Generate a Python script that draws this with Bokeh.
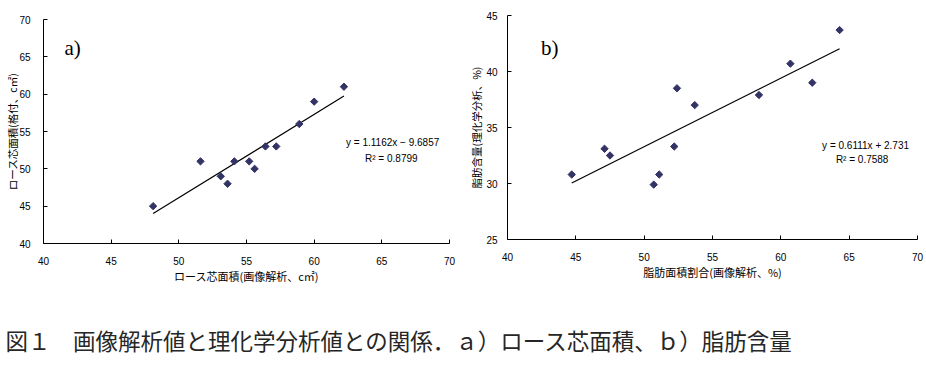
import numpy as np
from bokeh.plotting import figure
from bokeh.models import Range1d, FixedTicker, Label
from bokeh.layouts import column, row
from bokeh.core.properties import value
from bokeh.embed import file_html
from bokeh.resources import INLINE

# ---- data: panel a (rib-eye area) ----
xa = [48.1, 51.6, 53.1, 53.6, 54.1, 55.2, 55.6, 56.4, 57.2, 58.9, 60.0, 62.2]
ya = [45, 51, 49, 48, 51, 51, 50, 53, 53, 56, 59, 61]
slope_a, icpt_a = 1.1162, -9.6857
eq_a = ["y = 1.1162x \u2212 9.6857", "R\u00b2 = 0.8799"]

# ---- data: panel b (fat content) ----
xb = [44.7, 47.1, 47.5, 50.7, 51.1, 52.2, 52.4, 53.7, 58.4, 60.7, 62.3, 64.3]
yb = [30.8, 33.1, 32.5, 29.9, 30.8, 33.3, 38.5, 37.0, 37.9, 40.7, 39.0, 43.7]
slope_b, icpt_b = 0.6111, 2.731
eq_b = ["y = 0.6111x + 2.731", "R\u00b2 = 0.7588"]

x_ticks = [40, 45, 50, 55, 60, 65, 70]
ya_ticks = [40, 45, 50, 55, 60, 65, 70]
yb_ticks = [25, 30, 35, 40, 45]

xlabel_a = "ロース芯面積(画像解析、c㎡)"
ylabel_a = "ロース芯面積(格付、c㎡)"
xlabel_b = "脂肪面積割合(画像解析、%)"
ylabel_b = "脂肪含量(理化学分析、%)"
caption = "図１　画像解析値と理化学分析値との関係．ａ）ロース芯面積、ｂ）脂肪含量"

MARK = "#333366"
TICKFONT = "Liberation Sans"
JFONT = "Noto Sans CJK JP"


def make_panel(xs, ys, slope, icpt, xr, yr, yt, xlab, ylab, eq, eq_pos, tag, tag_pos,
               width, height, bl, bt, br, bb, ystand, ylab_stand):
    p = figure(width=width, height=height, x_range=Range1d(*xr), y_range=Range1d(*yr),
               output_backend="svg", toolbar_location=None, title=None,
               min_border_left=bl, min_border_top=bt, min_border_right=br,
               min_border_bottom=bb)
    p.outline_line_color = None
    p.grid.visible = False
    p.background_fill_color = "white"
    p.border_fill_color = "white"
    for ax in (p.xaxis[0], p.yaxis[0]):
        ax.axis_line_color = "black"
        ax.axis_line_width = 1
        ax.major_tick_line_color = "black"
        ax.major_tick_in = 4
        ax.major_tick_out = 0
        ax.minor_tick_line_color = None
        ax.major_label_text_font = TICKFONT
        ax.major_label_text_font_size = "10px"
        ax.major_label_text_color = "black"
        ax.axis_label_text_font = JFONT
        ax.axis_label_text_font_style = "normal"
        ax.axis_label_text_color = "black"
    p.xaxis[0].axis_label_text_font_size = "11px"
    p.yaxis[0].axis_label_text_font_size = "10.5px"
    p.xaxis[0].ticker = FixedTicker(ticks=x_ticks)
    p.yaxis[0].ticker = FixedTicker(ticks=yt)
    p.xaxis[0].major_label_standoff = 13
    p.yaxis[0].major_label_standoff = ystand
    p.xaxis[0].axis_label = xlab
    p.xaxis[0].axis_label_standoff = 0
    p.yaxis[0].axis_label = ylab
    p.yaxis[0].axis_label_standoff = ylab_stand

    x0, x1 = min(xs), max(xs)
    p.line([x0, x1], [slope * x0 + icpt, slope * x1 + icpt], line_color="black", line_width=1.2)
    p.scatter(xs, ys, marker="square", size=5.2, angle=np.pi / 4,
              fill_color=MARK, line_color=MARK)

    for txt, (ex, ey) in zip(eq, eq_pos):
        p.add_layout(Label(x=ex, y=ey, text=txt, text_font=TICKFONT, text_font_size="10px",
                           text_align="center", text_baseline="middle", text_color="black"))
    p.add_layout(Label(x=tag_pos[0], y=tag_pos[1], text=tag, text_font="Liberation Serif",
                       text_font_size="21px", text_align="left", text_baseline="middle",
                       text_color="black"))
    return p


pa = make_panel(xa, ya, slope_a, icpt_a, (40, 70), (40, 70), ya_ticks, xlabel_a, ylabel_a,
                eq_a, [(65.8, 53.5), (65.7, 51.4)], "a)", (41.55, 66.25),
                460, 295, 43, 19, 11, 52, 13, -4)
pb = make_panel(xb, yb, slope_b, icpt_b, (40, 70), (25, 45), yb_ticks, xlabel_b, ylabel_b,
                eq_b, [(66.2, 33.4), (65.95, 32.1)], "b)", (42.45, 42.1),
                466, 295, 47, 15, 9, 56, 10, -1)

pc = figure(width=926, height=71, x_range=Range1d(0, 926), y_range=Range1d(0, 71),
            output_backend="svg", toolbar_location=None, min_border=0, title=None)
pc.axis.visible = False
pc.grid.visible = False
pc.outline_line_color = None
pc.text(x=[5], y=[27], text=[caption], text_font=value(JFONT), text_font_size="22.5px",
        text_baseline="middle", text_align="left", text_color="#262626")

layout = column(row(column(pa), column(pb)), pc)
open("out.html", "w").write(file_html(layout, INLINE))
